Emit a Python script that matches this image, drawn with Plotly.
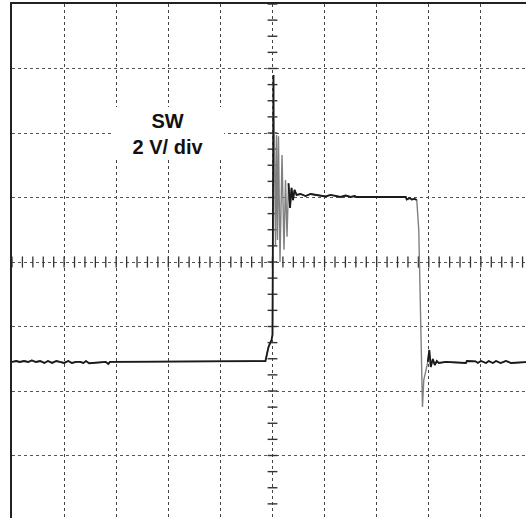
import numpy as np
import plotly.graph_objects as go

# Oscilloscope trace, time in divisions (0 = trigger/center), SW voltage in divisions (2 V/div)
t_div = [-5.0, -4.92, -4.85, -4.77, -4.69, -4.62, -4.54, -4.46, -4.38, -4.31, -4.23, -4.15,
         -4.08, -4.0, -3.92, -3.85, -3.77, -3.69, -3.63, -3.58, -3.52, -3.2, -3.15, -3.12,
         -0.135, -0.077, -0.019, 0.0, 0.01, 0.019, 0.038, 0.058, 0.077, 0.096, 0.115, 0.144,
         0.183, 0.221, 0.25, 0.279, 0.308, 0.337, 0.365, 0.394, 0.423, 0.462, 0.538, 0.635,
         0.731, 0.827, 0.923, 1.019, 1.115, 1.212, 1.308, 1.404, 1.5, 1.577, 1.615, 2.558,
         2.577, 2.635, 2.673, 2.731, 2.769, 2.808, 2.846, 2.865, 2.879, 2.904, 2.942, 2.981,
         3.01, 3.038, 3.077, 3.115, 3.154, 3.192, 3.327, 3.712, 3.731, 3.9, 3.94, 4.0, 4.1,
         4.15, 4.23, 4.29, 4.38, 4.48, 4.58, 4.885]
v_div = [-1.55, -1.535, -1.55, -1.535, -1.55, -1.525, -1.55, -1.535, -1.565, -1.535, -1.565,
         -1.535, -1.55, -1.565, -1.535, -1.565, -1.55, -1.55, -1.565, -1.535, -1.57, -1.55,
         -1.58, -1.55,
         -1.535, -1.32, -1.21, -1.13, 0.96, 2.90, 1.74, 0.26, 1.97, 0.34, 1.95, 0.0,
         1.66, 0.19, 1.27, 0.39, 1.22, 0.84, 1.15, 0.96, 1.12, 1.04, 1.054, 1.023,
         1.054, 1.04, 1.023, 1.016, 1.04, 1.023, 1.008, 1.03, 1.008, 1.023, 1.008, 1.008,
         0.969, 0.992, 0.969, 0.977, 0.961, 0.496, -1.054, -1.752, -2.248, -1.829, -1.674, -1.55,
         -1.364, -1.628, -1.504, -1.597, -1.535, -1.566, -1.55, -1.566, -1.535, -1.54, -1.566, -1.535, -1.566,
         -1.535, -1.566, -1.535, -1.566, -1.535, -1.566, -1.55]

# fast (dimly drawn) portions of the trace, in divisions
fast_windows = [(0.025, 0.30), (2.79, 2.95)]

x_range = [-5.0, 4.866]
y_range = [-3.969, 4.0]

def is_fast(t):
    return any(a < t < b for a, b in fast_windows)

v_slow = [None if is_fast(t) else v for t, v in zip(t_div, v_div)]

fig = go.Figure()

# centre-axis minor ticks (0.2 div horizontally, 0.25 div vertically)
hx = np.arange(-5.0, 4.9, 0.2)
fig.add_trace(go.Scatter(x=hx, y=np.zeros_like(hx), mode="markers", hoverinfo="skip",
                         marker=dict(symbol="line-ns", size=8, line=dict(width=1.3, color="#333"))))
vy = np.arange(-4.0, 4.01, 0.25)
fig.add_trace(go.Scatter(x=np.zeros_like(vy), y=vy, mode="markers", hoverinfo="skip",
                         marker=dict(symbol="line-ew", size=7, line=dict(width=1.4, color="#333"))))

fig.add_trace(go.Scatter(x=t_div, y=v_div, mode="lines",
                         line=dict(color="#808080", width=1.4), hoverinfo="skip"))
fig.add_trace(go.Scatter(x=t_div, y=v_slow, mode="lines", connectgaps=False,
                         line=dict(color="#1a1a1a", width=1.8), hoverinfo="skip"))

fig.add_annotation(x=-2, y=2, xref="x", yref="y", text="<b>SW<br>2 V/ div</b>",
                   showarrow=False, bgcolor="white", width=112, height=53,
                   borderpad=0, borderwidth=0,
                   font=dict(family="Liberation Sans, Arial", size=20, color="#111"))

fig.update_layout(
    width=526, height=518,
    margin=dict(l=12, r=0, t=4, b=0),
    paper_bgcolor="white", plot_bgcolor="white",
    showlegend=False,
    xaxis=dict(range=x_range, tick0=0, dtick=1, showticklabels=False, ticks="",
               showgrid=True, gridcolor="#444", griddash="dot", gridwidth=1,
               zeroline=False, side="top", showline=True, linecolor="#222", linewidth=2),
    yaxis=dict(range=y_range, tick0=0, dtick=1, showticklabels=False, ticks="",
               showgrid=True, gridcolor="#555", griddash="dot", gridwidth=1,
               zeroline=False, showline=True, linecolor="#222", linewidth=2),
)

fig.write_html("out.html", config={"displayModeBar": False},
               post_script="document.body.style.margin='0';")
